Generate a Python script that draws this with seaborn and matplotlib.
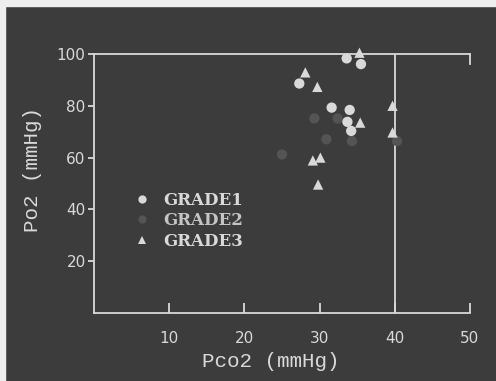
import matplotlib
matplotlib.use("Agg")
import matplotlib.pyplot as plt
from matplotlib.patches import Rectangle
import seaborn as sns
import pandas as pd

# ---- data ----
grade1_pco2 = [33.6, 35.5, 27.3, 31.6, 34.0, 33.7, 34.2]
grade1_po2 = [98.3, 96.1, 88.6, 79.3, 78.4, 73.8, 70.3]

grade2_pco2 = [29.3, 32.4, 30.9, 34.3, 25.0, 40.3]
grade2_po2 = [75.1, 75.1, 67.1, 66.4, 61.2, 66.4]

grade3_pco2 = [35.3, 28.1, 29.7, 35.4, 39.7, 39.7, 29.1, 30.1, 29.8]
grade3_po2 = [100.5, 92.9, 87.3, 73.5, 80.0, 69.7, 58.9, 60.0, 49.6]

grades = ["GRADE1", "GRADE2", "GRADE3"]
x_ticks = [10, 20, 30, 40, 50]
y_ticks = [20, 40, 60, 80, 100]

df = pd.DataFrame({
    "Pco2": grade2_pco2 + grade1_pco2 + grade3_pco2,
    "Po2": grade2_po2 + grade1_po2 + grade3_po2,
    "grade": ["GRADE2"] * len(grade2_pco2) + ["GRADE1"] * len(grade1_pco2)
             + ["GRADE3"] * len(grade3_pco2),
})

BG = "#3c3c3c"
FG = "#d9d9d9"
G2 = "#545454"

sns.set_style("ticks")
plt.rcParams["font.family"] = ["DejaVu Sans"]

fig = plt.figure(figsize=(4.96, 3.81), dpi=100, facecolor=BG)
ax = fig.add_axes([94 / 496, 1 - 313 / 381, 376 / 496, 259 / 381])
ax.set_facecolor(BG)

sns.scatterplot(
    data=df, x="Pco2", y="Po2", hue="grade", style="grade",
    hue_order=grades, style_order=grades,
    palette={"GRADE1": FG, "GRADE2": G2, "GRADE3": FG},
    markers={"GRADE1": "o", "GRADE2": "o", "GRADE3": "^"},
    s=55, linewidth=0, ax=ax, zorder=3, clip_on=False,
)

ax.set_xlim(0, 50)
ax.set_ylim(0, 100)

for side in ["left", "bottom", "top", "right"]:
    ax.spines[side].set_color(FG)
    ax.spines[side].set_linewidth(1.3)
ax.spines["right"].set_bounds(96, 100)
ax.axvline(40, color=FG, lw=1.3, zorder=2)

ax.set_xticks(x_ticks)
ax.set_xticklabels([str(t) for t in x_ticks])
ax.set_yticks(y_ticks)
ax.set_yticklabels([str(t) for t in y_ticks])
ax.tick_params(axis="x", direction="in", length=7, width=1.3, colors=FG,
               labelsize=11, pad=13)
ax.tick_params(axis="y", direction="out", length=4, width=1.3, colors=FG,
               labelsize=11, pad=2)

ax.set_xlabel("Pco2 (mmHg)", color=FG, fontsize=15, family="Liberation Mono")
ax.set_ylabel("Po2 (mmHg)", color=FG, fontsize=15, family="Liberation Mono")
ax.xaxis.set_label_coords((271 - 94) / 376, -(352 - 313) / 259)
ax.yaxis.set_label_coords(-(94 - 42) / 376, (313 - 170) / 259)

sns.move_legend(
    ax, "upper left", bbox_to_anchor=(0.06, 0.5), title=None, frameon=False,
    handletextpad=0.3, labelspacing=0.2, borderpad=0,
    prop={"family": "DejaVu Serif", "weight": "bold", "size": 12},
    labelcolor=[FG, "#c4c4c4", FG], markerscale=0.8,
)

fig.patches.append(Rectangle((0, 1 - 6 / 381), 1, 6 / 381,
                             transform=fig.transFigure, color="#eeeeee"))
fig.patches.append(Rectangle((0, 0), 5 / 496, 1,
                             transform=fig.transFigure, color="#eeeeee"))

fig.savefig("out.png", dpi=100, facecolor=BG)
